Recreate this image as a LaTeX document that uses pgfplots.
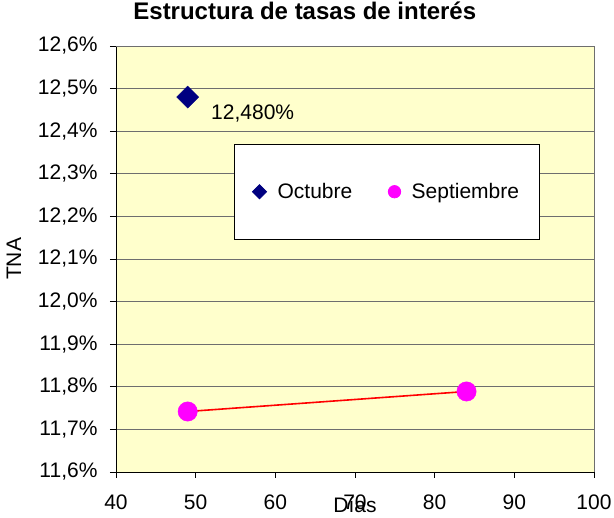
\documentclass[border=0pt]{standalone}
\usepackage{pgfplots}
\pgfplotsset{compat=1.18}
\usepackage{fontspec}
\setmainfont{Liberation Sans}
\definecolor{bgyel}{RGB}{255,255,204}
\definecolor{navyc}{RGB}{0,0,128}
\definecolor{magc}{RGB}{255,0,255}
\definecolor{gridc}{RGB}{110,110,110}
\newcommand{\fs}{\fontsize{21}{25}\selectfont}
\begin{document}
\begin{tikzpicture}[x=1pt,y=1pt]
\useasboundingbox (-116,-46) rectangle (498,472);
\begin{axis}[
  at={(0,0)}, anchor=south west,
  scale only axis, width=478pt, height=426pt,
  xmin=40, xmax=100, ymin=11.6, ymax=12.6,
  xtick={40,50,...,100},
  ytick={11.6,11.7,...,12.6},
  axis background/.style={fill=bgyel},
  axis line style={black, line width=0.8pt},
  tick pos=left, tick align=outside,
  major tick length=6pt,
  tick style={black, line width=0.8pt},
  ymajorgrids, grid style={gridc, line width=0.8pt},
  /pgf/number format/assume math mode=true,
  xticklabel style={font=\fs, yshift=-13pt},
  yticklabel style={font=\fs, xshift=-9pt},
  yticklabel={\pgfmathprintnumber[fixed, fixed zerofill, precision=1, use comma]{\tick}\%},
  xticklabel={\pgfmathprintnumber[fixed]{\tick}},
  title={\bfseries Estructura de tasas de interés},
  title style={font=\fontsize{24}{28}\selectfont, at={(axis description cs:0.395,1)}, anchor=center, yshift=29pt},
  xlabel={Días},
  xlabel style={font=\fs, at={(axis description cs:0.5,0)}, anchor=center, yshift=-33pt},
  ylabel={TNA},
  ylabel style={font=\fs, at={(axis description cs:-0.2134,0.5)}, anchor=center},
  legend columns=2,
  legend style={at={(rel axis cs:0.247,0.770)}, anchor=north west,
    draw=black, line width=0.8pt, fill=white, font=\fs,
    inner xsep=18pt, inner ysep=37pt,
    /tikz/every odd column/.append style={column sep=9pt},
    /tikz/every even column/.append style={column sep=34pt}},
  legend cell align=left,
  clip=false,
]
\draw[gridc, line width=0.8pt] (rel axis cs:0,1) -- (rel axis cs:1,1) -- (rel axis cs:1,0);
\addplot[only marks, mark=square*, mark size=7.8pt, mark options={rotate=45, fill=navyc, draw=navyc},
  legend image post style={mark size=5pt}]
  coordinates {(49,12.480)};
\addlegendentry{Octubre}
\addplot[only marks, mark=*, mark size=9.7pt, mark options={fill=magc, draw=magc},
  legend image post style={mark size=6.2pt}]
  coordinates {(49,11.742) (84,11.789)};
\addlegendentry{Septiembre}
\addplot[red, line width=1.6pt, forget plot] coordinates {(49,11.742) (84,11.789)};
\node[anchor=west, font=\fs] at (axis cs:49,12.480) [xshift=20pt, yshift=-16pt] {12,480\%};
\end{axis}
\end{tikzpicture}
\end{document}
